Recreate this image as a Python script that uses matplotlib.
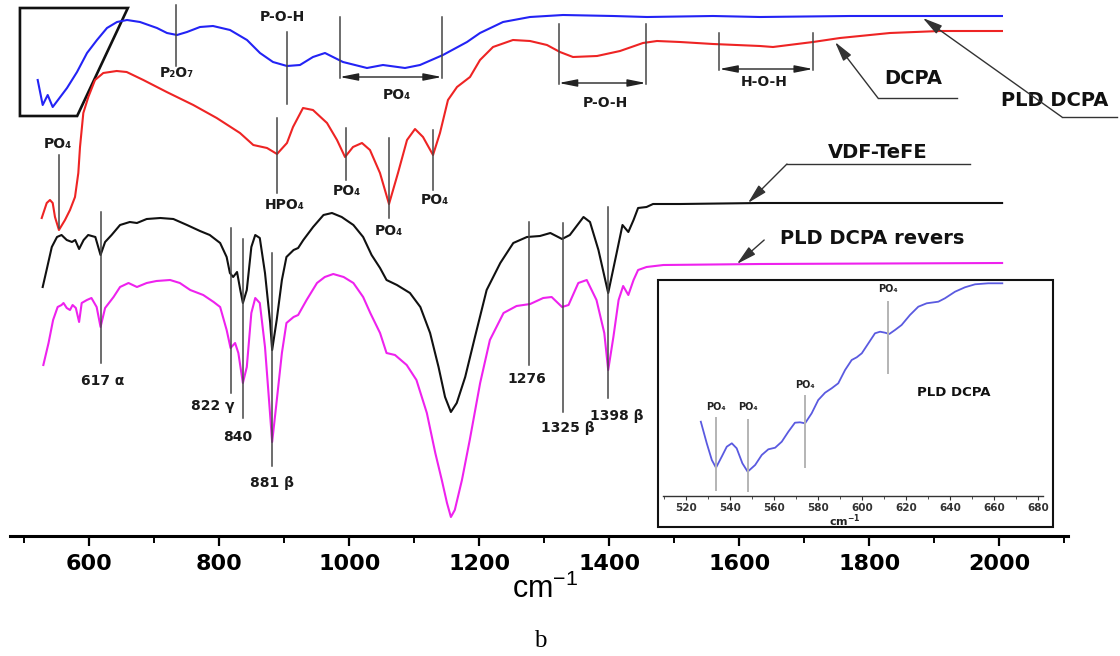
import matplotlib
matplotlib.use("Agg")
import matplotlib.pyplot as plt
from matplotlib.patches import Polygon, Rectangle

plt.rcParams['font.family'] = ['DejaVu Sans']
plt.rcParams['mathtext.fontset'] = 'dejavusans'

# ---------------- data (wavenumber in cm^-1, transmittance in a.u., stacked) -------------
blue_wn = [520.3, 528, 535.7, 543.4, 551.5, 565.4, 580.8, 596.2, 611.5, 626.9, 642.3, 657.7,
           677.7, 703.8, 719.2, 734.6, 750, 770, 790, 816.2, 842.3, 862.3, 882.3, 903.8, 923.8,
           943.8, 962.3, 974.6, 990, 1026.9, 1051.5, 1085.4, 1108.5, 1143.8, 1180.8, 1200.8,
           1236.2, 1277.7, 1328.5, 1405.4, 1457.7, 1559.2, 1631.5, 1770, 2003.8]
blue_t = [456, 431, 441, 429, 436, 448, 464, 483, 496, 508, 514, 516, 514, 508, 503, 501, 504,
          509, 510, 506, 496, 483, 474, 470, 471, 479, 483, 479, 474, 468, 471, 468, 471, 481,
          494, 503, 514, 519, 521, 520, 519, 520, 519, 520, 520]

red_wn = [526.5, 534.2, 539.2, 543.4, 546.9, 553, 562.3, 570, 577.7, 582.8, 585.4, 590.5,
          598.2, 608.5, 621.2, 641.8, 657.2, 682.8, 718.8, 759.7, 795.7, 831.5, 852, 873.1,
          888.5, 903.8, 913.1, 928.5, 943.8, 965.4, 980.8, 993.1, 1005.4, 1019.2, 1031.5,
          1046.9, 1060.8, 1074.6, 1088.5, 1100.8, 1113.1, 1128.5, 1139.2, 1151.5, 1165.4,
          1185.4, 1200.8, 1220.8, 1251.5, 1277.7, 1303.8, 1323.8, 1343.8, 1380.8, 1416.2,
          1451.5, 1473.1, 1508.5, 1559.2, 1631.5, 1651.5, 1713.1, 1754.6, 1831.5, 1908.5, 2003.8]
red_t = [318, 333, 336, 333, 319, 306, 316, 326, 339, 363, 389, 423, 439, 456, 463, 465, 464,
         456, 444, 431, 418, 403, 391, 388, 382, 393, 409, 428, 426, 413, 396, 379, 389, 393,
         386, 363, 332, 363, 396, 407, 399, 381, 403, 436, 449, 459, 476, 489, 496, 495, 491,
         484, 479, 480, 485, 493, 495, 494, 492, 490, 489, 494, 498, 503, 505, 505]

black_wn = [528, 534, 542, 550, 557, 565, 573, 578, 584, 591, 598, 609, 617, 624, 634, 647, 662,
            673, 688, 709, 729, 750, 770, 785, 801, 811, 816, 821, 827, 832, 836, 842, 849, 855,
            862, 870, 878, 881, 888, 896, 903, 914, 921, 929, 944, 960, 973, 988, 1006, 1021,
            1034, 1047, 1057, 1073, 1093, 1109, 1124, 1137, 1147, 1156, 1165, 1178, 1193, 1211,
            1232, 1252, 1273, 1293, 1309, 1327, 1339, 1360, 1370, 1383, 1398, 1411, 1420, 1429,
            1437, 1444, 1457, 1467, 1509, 1632, 1816, 2004]
black_t = [249, 266, 289, 299, 301, 296, 294, 296, 287, 296, 301, 299, 281, 294, 301, 311, 314,
           313, 317, 318, 317, 311, 305, 301, 293, 279, 263, 259, 264, 246, 233, 246, 289, 301,
           298, 263, 213, 186, 216, 256, 279, 286, 288, 296, 309, 321, 323, 319, 311, 299, 281,
           268, 256, 251, 243, 229, 203, 169, 139, 124, 133, 159, 199, 246, 273, 293, 299, 300,
           303, 297, 301, 319, 314, 286, 243, 283, 311, 304, 316, 328, 329, 332, 332, 333, 333, 333]

mag_wn = [529, 537, 544, 551, 557, 560, 565, 570, 574, 579, 584, 588, 596, 603, 611, 617, 624,
          637, 647, 660, 673, 688, 703, 724, 739, 755, 775, 791, 801, 811, 817, 824, 829, 836,
          842, 849, 855, 862, 870, 877, 881, 887, 896, 903, 914, 921, 934, 950, 962, 975, 991,
          1006, 1021, 1032, 1047, 1057, 1070, 1088, 1103, 1119, 1132, 1142, 1150, 1156, 1162,
          1173, 1185, 1201, 1216, 1237, 1257, 1278, 1298, 1311, 1327, 1337, 1352, 1365, 1380,
          1392, 1398, 1406, 1414, 1421, 1429, 1437, 1444, 1457, 1483, 1632, 2004]
mag_t = [171, 193, 216, 229, 231, 233, 228, 226, 231, 228, 214, 233, 236, 238, 229, 209, 228,
         239, 249, 253, 249, 253, 255, 256, 253, 246, 241, 234, 229, 206, 188, 193, 183, 153,
         169, 223, 238, 233, 189, 129, 94, 129, 183, 213, 219, 221, 236, 253, 259, 262, 259,
         253, 239, 223, 203, 183, 181, 171, 156, 123, 83, 56, 33, 19, 26, 56, 96, 153, 196,
         223, 230, 232, 238, 239, 229, 231, 253, 256, 236, 203, 166, 199, 236, 250, 241, 256,
         266, 269, 271, 272, 273]

inset_wn = [526.7, 529.4, 531.7, 533.6, 536.2, 538.5, 540.8, 543.0, 545.6, 548.0, 551.4, 554.4,
            557.4, 560.5, 563.5, 566.5, 569.5, 571.8, 574.1, 577.1, 580.1, 583.2, 586.2, 589.2,
            592.3, 595.3, 597.6, 599.9, 602.9, 605.9, 608.2, 610.5, 612.4, 615.0, 618.0, 621.8,
            625.6, 629.4, 634.7, 637.7, 642.3, 646.8, 651.4, 657.4, 663.8]
inset_t = [74.3, 52.7, 36, 28.3, 39.3, 49.3, 52.7, 47.7, 32.7, 24.3, 31, 41, 46.7, 48.3, 54.3,
           64.3, 73.3, 73.7, 72.7, 82.7, 96, 103.3, 107.7, 112.7, 126, 136, 138.7, 142.7, 152.7,
           162.7, 164.3, 163.3, 162, 166, 171, 181, 189.3, 192.7, 194.3, 197.7, 204.3, 208.7,
           211.7, 212.7, 212.7]

main_ticks = [600, 800, 1000, 1200, 1400, 1600, 1800, 2000]
main_minor = [500, 700, 900, 1100, 1300, 1500, 1700, 1900, 2100]
inset_ticks = [520, 540, 560, 580, 600, 620, 640, 660, 680]

vdf_mark_pos = [617, 818, 836, 881, 1276, 1329, 1398]
vdf_mark_lbl = ['617 α', '822 γ', '840', '881 β', '1276', '1325 β', '1398 β']
dcpa_mark_pos = [733, 904, 553, 888, 995, 1061, 1128]
dcpa_mark_lbl = ['P₂O₇', 'P-O-H', 'PO₄', 'HPO₄', 'PO₄', 'PO₄', 'PO₄']
band_ranges = [(985, 1142), (1322, 1456), (1569, 1713)]
band_lbl = ['PO₄', 'P-O-H', 'H-O-H']
inset_mark_pos = [533.6, 548.0, 574.1, 612.0]

# ---------------- figure ----------------
W, H = 1120, 656
fig = plt.figure(figsize=(W / 100, H / 100), dpi=100)


def fbox(l, t, r, b):
    return [l / W, 1 - b / H, (r - l) / W, (b - t) / H]


ax = fig.add_axes(fbox(10, 0, 1068, 536))
ax.set_xlim(477.7, 2105.4)
ax.set_ylim(0, 536)
ax.patch.set_alpha(0)
for s in ('left', 'right', 'top'):
    ax.spines[s].set_visible(False)
ax.spines['bottom'].set_linewidth(2.2)
ax.set_yticks([])
ax.set_xticks(main_ticks)
ax.set_xticks(main_minor, minor=True)
ax.set_xticklabels([str(t) for t in main_ticks], fontweight='bold', fontsize=16)
ax.tick_params(axis='x', which='major', direction='out', length=7, width=1.6, pad=6)
ax.tick_params(axis='x', which='minor', direction='out', length=5, width=1.4)

fig.text(545 / W, 1 - 589 / H, r'cm$^{\mathregular{-1}}$', ha='center', va='center',
         fontsize=22, family=['Liberation Sans', 'DejaVu Sans'])
fig.text(540 / W, 1 - 641 / H, 'b', ha='center', va='center', fontsize=18,
         family=['Liberation Serif', 'DejaVu Serif'])

lw = 1.5
ax.plot(blue_wn, blue_t, color='#2323f5', lw=lw, solid_joinstyle='round', clip_on=False)
ax.plot(red_wn, red_t, color='#ee2424', lw=lw, solid_joinstyle='round', clip_on=False)
ax.plot(black_wn, black_t, color='#111111', lw=lw, solid_joinstyle='round', clip_on=False)
ax.plot(mag_wn, mag_t, color='#ee22ee', lw=lw, solid_joinstyle='round', clip_on=False)

mc = '#454545'
lab = dict(ha='center', va='center', fontsize=10, fontweight='bold', color='#1a1a1a')

# top marker lines (DCPA / PLD DCPA)
top_span = [(531, 470), (504, 432), (381, 308), (418, 343), (408, 356), (398, 318), (406, 346)]
top_lab = [(735, 463), (896, 519), (551, 392), (901, 331), (996, 345), (1061, 305), (1131, 336)]
for x, (y0, y1), (lx, ly), t in zip(dcpa_mark_pos, top_span, top_lab, dcpa_mark_lbl):
    ax.plot([x, x], [y0, y1], color=mc, lw=1.1)
    ax.text(lx, ly, t, **lab)

# band brackets with double arrows
br_geom = [(519, 459, 1073, 441), (512, 453, 1393, 433), (503, 467, 1638, 454)]
for (x0, x1), (ytop, yar, lx, ly), t in zip(band_ranges, br_geom, band_lbl):
    ax.plot([x0, x0], [ytop, yar - 1], color=mc, lw=1.1)
    ax.plot([x1, x1], [ytop, yar - 1], color=mc, lw=1.1)
    ax.annotate('', xy=(x1, yar), xytext=(x0, yar),
                arrowprops=dict(arrowstyle='<|-|>,head_length=1.1,head_width=0.22',
                                color='#222222', lw=1.0, shrinkA=0, shrinkB=0,
                                mutation_scale=10))
    ax.text(lx, ly, t, **lab)

# bottom marker lines (VDF-TeFE)
bot_span = [(324, 173), (308, 143), (297, 118), (283, 70), (314, 171), (313, 124), (329, 138)]
bot_lab = [(621, 155), (790, 130), (828, 99), (881, 53), (1273, 157), (1336, 108), (1411, 120)]
for x, (y0, y1), (lx, ly), t in zip(vdf_mark_pos, bot_span, bot_lab, vdf_mark_lbl):
    ax.plot([x, x], [y0, y1], color=mc, lw=1.1)
    ax.text(lx, ly, t, **lab)

# highlight box at the start of the PLD DCPA trace
ax.add_patch(Polygon([(493, 528), (659, 528), (581, 420), (493, 420)], closed=True,
                     fill=False, ec='#111111', lw=1.9, clip_on=False))

# curve labels with leaders
big = dict(ha='center', va='center', fontsize=14, fontweight='bold', color='#111111')
arr = dict(arrowstyle='-|>,head_length=1.2,head_width=0.3', color='#333333', lw=1.0,
           shrinkA=0, shrinkB=0, mutation_scale=10)
leaders = [
    ('DCPA', (1868, 458), [(1935, 438), (1813, 438)], (1747, 494)),
    ('PLD DCPA', (2085, 436), [(2181, 419), (2096, 419)], (1882, 518)),
    ('VDF-TeFE', (1813, 384), [(1955, 372), (1673, 372)], (1613, 333)),
    ('PLD DCPA revers', (1804, 298), [(1638, 296)], (1596, 272)),
]
for t, (tx, ty), pts, tip in leaders:
    ax.text(tx, ty, t, **big)
    if len(pts) > 1:
        ax.plot([p[0] for p in pts], [p[1] for p in pts], color='#333333', lw=1.0,
                clip_on=False)
    ax.annotate('', xy=tip, xytext=pts[-1], arrowprops=arr, annotation_clip=False)

# ---------------- inset ----------------
fig.add_artist(Rectangle((658 / W, 1 - 527 / H), (1053 - 658) / W, (527 - 280) / H,
                         transform=fig.transFigure, fill=True, fc='white', ec='#111111',
                         lw=1.5, zorder=3))
ins = fig.add_axes(fbox(663, 281, 1043, 496))
ins.set_zorder(4)
ins.patch.set_alpha(0)
ins.set_xlim(509.5, 682.3)
ins.set_ylim(0, 215)
for s in ('left', 'right', 'top'):
    ins.spines[s].set_visible(False)
ins.spines['bottom'].set_linewidth(1.0)
ins.spines['bottom'].set_color('#333333')
ins.set_yticks([])
ins.set_xticks(inset_ticks)
ins.set_xticks([t + 10 for t in inset_ticks[:-1]] + [510], minor=True)
ins.set_xticklabels([str(t) for t in inset_ticks], fontweight='bold', fontsize=7.5,
                    color='#333333')
ins.tick_params(axis='x', which='major', direction='out', length=3, width=0.8, pad=2,
                color='#333333')
ins.tick_params(axis='x', which='minor', direction='out', length=2, width=0.6,
                color='#333333')
ins.plot(inset_wn, inset_t, color='#5a5ae0', lw=1.3, solid_joinstyle='round')
in_span = [(78, 6), (76, 5), (100, 29), (194, 123)]
in_lab = [89, 89, 111, 207]
for x, (y0, y1), ly in zip(inset_mark_pos, in_span, in_lab):
    ins.plot([x, x], [y0, y1], color='#b4b4b4', lw=1.4)
    ins.text(x, ly, 'PO₄', ha='center', va='center', fontsize=7, fontweight='bold',
             color='#222222')
ins.text(641.8, 103, 'PLD DCPA', ha='center', va='center', fontsize=9.5, fontweight='bold',
         color='#111111')
fig.text(845 / W, 1 - 521 / H, r'$\mathbf{cm^{-1}}$', ha='center', va='center', fontsize=8,
         color='#222222', zorder=5)

fig.savefig('out.png', dpi=100)
